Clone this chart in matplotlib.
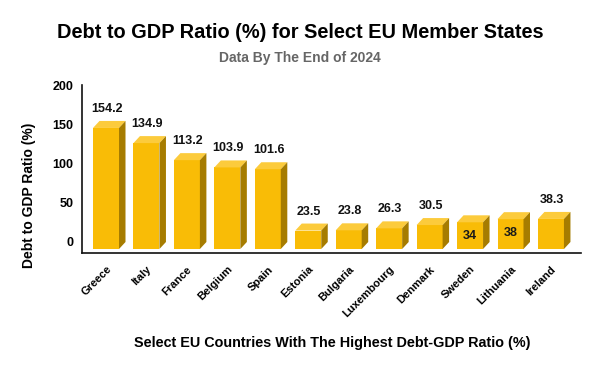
import matplotlib
matplotlib.use("Agg")
import matplotlib.pyplot as plt
from matplotlib.patches import Polygon

countries = ["Greece", "Italy", "France", "Belgium", "Spain", "Estonia", "Bulgaria",
             "Luxembourg", "Denmark", "Sweden", "Lithuania", "Ireland"]
values = [154.2, 134.9, 113.2, 103.9, 101.6, 23.5, 23.8, 26.3, 30.5, 34, 38, 38.3]
inside_label = ["Sweden", "Lithuania"]
yticks = [0, 50, 100, 150, 200]

plt.rcParams['font.family'] = ['Liberation Sans', 'DejaVu Sans']
W, H = 600, 371
fig = plt.figure(figsize=(W / 100, H / 100), dpi=100)
ax = fig.add_axes([82 / W, (H - 253) / H, (581 - 82) / W, (253 - 85) / H])

ppx = 40.45          # pixels per category
ppy = 0.785          # pixels per unit
x0 = -(106 - 82) / ppx
x1 = x0 + (581 - 82) / ppx
y0 = -(253 - 249) / ppy
y1 = y0 + (253 - 85) / ppy
ax.set_xlim(x0, x1)
ax.set_ylim(y0, y1)

dx = 6.5 / ppx
dy = 7.0 / ppy
bw = 26 / ppx

front_c = "#F9BC06"
top_c = "#FCCB3C"
side_c = "#A67C00"

for i, (c, v) in enumerate(zip(countries, values)):
    l, r = i - bw / 2, i + bw / 2
    ax.add_patch(Polygon([(l, 0), (r, 0), (r, v), (l, v)], closed=True,
                         facecolor=front_c, edgecolor='none'))
    ax.add_patch(Polygon([(l, v), (r, v), (r + dx, v + dy), (l + dx, v + dy)], closed=True,
                         facecolor=top_c, edgecolor='none'))
    ax.add_patch(Polygon([(r, 0), (r + dx, dy), (r + dx, v + dy), (r, v)], closed=True,
                         facecolor=side_c, edgecolor='none'))
    lab = f"{v:g}"
    if c in inside_label:
        ax.text(i, v - 14 / ppy, lab, ha='center', va='center', fontsize=9,
                fontweight='bold', color='#1a1a1a')
    else:
        ax.text(i + 1 / ppx, v + dy + 12 / ppy, lab, ha='center', va='center', fontsize=9,
                fontweight='bold', color='#111111')

ax.set_yticks([t + dy for t in yticks])
ax.set_yticklabels([str(t) for t in yticks], fontsize=9, fontweight='bold')
ax.set_xticks(range(len(countries)))
ax.set_xticklabels(countries, rotation=45, ha='right', va='top', rotation_mode='anchor',
                   fontsize=8, fontweight='bold')
ax.tick_params(axis='both', length=0)
ax.tick_params(axis='y', pad=6)
ax.tick_params(axis='x', pad=8)
for s in ['top', 'right']:
    ax.spines[s].set_visible(False)
for s in ['left', 'bottom']:
    ax.spines[s].set_linewidth(1.2)
    ax.spines[s].set_color('#111111')

fig.text(300 / W, 1 - 32 / H, "Debt to GDP Ratio (%) for Select EU Member States",
         ha='center', va='center', fontsize=14.4, fontweight='bold')
fig.text(300 / W, 1 - 58 / H, "Data By The End of 2024", ha='center', va='center',
         fontsize=10, fontweight='bold', color='#666666')
fig.text(332 / W, 1 - 343 / H, "Select EU Countries With The Highest Debt-GDP Ratio (%)",
         ha='center', va='center', fontsize=10.4, fontweight='bold')
fig.text(29 / W, 1 - 195 / H, "Debt to GDP Ratio (%)", ha='center', va='center',
         rotation=90, fontsize=10, fontweight='bold')

fig.savefig("out.png", dpi=100)
